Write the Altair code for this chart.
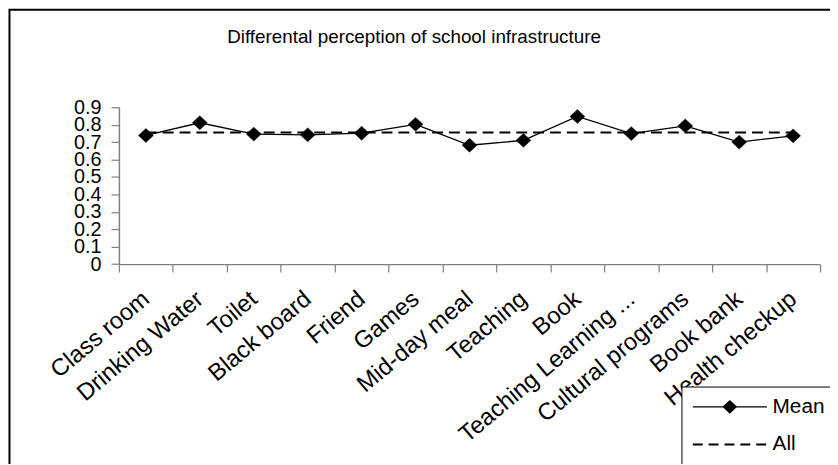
import altair as alt
import pandas as pd

categories = ["Class room", "Drinking Water", "Toilet", "Black board", "Friend", "Games",
              "Mid-day meal", "Teaching", "Book", "Teaching Learning ...",
              "Cultural programs", "Book bank", "Health checkup"]
mean_values = [0.738, 0.811, 0.746, 0.742, 0.751, 0.802, 0.682, 0.710, 0.847, 0.749, 0.793, 0.700, 0.736]
all_values = [0.755] * len(categories)
series_names = ["Mean", "All"]
y_ticks = [0, 0.1, 0.2, 0.3, 0.4, 0.5, 0.6, 0.7, 0.8, 0.9]
title_text = "Differental perception of school infrastructure"

SANS = "Liberation Sans, Arial, sans-serif"

rows = []
for c, m, a in zip(categories, mean_values, all_values):
    rows.append({"category": c, "series": "Mean", "value": m})
    rows.append({"category": c, "series": "All", "value": a})
df = pd.DataFrame(rows)

x_enc = alt.X("category:N", sort=categories,
              scale=alt.Scale(type="band", paddingInner=0, paddingOuter=0),
              axis=alt.Axis(title=None, tickBand="extent", labelAngle=-40, labelAlign="right",
                            labelBaseline="middle", labelFont=SANS, labelFontSize=24,
                            labelColor="black", labelPadding=24, labelLimit=400,
                            labelOverlap=False,
                            tickSize=8, tickColor="#808080", domainColor="#808080",
                            domainWidth=1.5, tickWidth=1.2, grid=False))
y_enc = alt.Y("value:Q", scale=alt.Scale(domain=[0, 0.9], nice=False, zero=True),
              axis=alt.Axis(title=None, values=y_ticks, format=".1~f", labelFont=SANS,
                            labelFontSize=20, labelColor="black", labelPadding=10,
                            labelOverlap=False,
                            tickSize=8, tickColor="#808080", domainColor="#808080",
                            domainWidth=1.5, tickWidth=1.2, grid=False))

base = alt.Chart(df)

frame = alt.Chart(pd.DataFrame({"f": [0]})).mark_rect(
    filled=False, stroke="black", strokeWidth=2
).encode(x=alt.value(-110.5), x2=alt.value(900), y=alt.value(-98.5), y2=alt.value(600))

all_line = base.transform_filter(alt.datum.series == "All").mark_line(
    color="black", strokeWidth=2, strokeDash=[11, 6]
).encode(x=x_enc, y=y_enc)

mean_line = base.transform_filter(alt.datum.series == "Mean").mark_line(
    color="black", strokeWidth=1.3
).encode(x=x_enc, y=y_enc)

mean_pts = base.transform_filter(alt.datum.series == "Mean").mark_point(
    shape="M-1,0L0,-0.93L1,0L0,0.93Z", filled=True, fill="black", stroke="black",
    strokeWidth=0.5, size=225, opacity=1
).encode(x=x_enc, y=y_enc)

# legend glyphs drawn as filled paths (unit = 9px): solid line + diamond / dashed line
mean_path = ("M-1,-0.075H7.3V0.075H-1Z"
             "M3.15,-0.78L3.98,0L3.15,0.78L2.32,0Z")
all_path = ("M-1,-0.11H0.111V0.11H-1Z"
            "M0.778,-0.11H1.889V0.11H0.778Z"
            "M2.556,-0.11H3.667V0.11H2.556Z"
            "M4.333,-0.11H5.444V0.11H4.333Z"
            "M6.111,-0.11H7.222V0.11H6.111Z")

legend_props = dict(title=None, orient="none", legendX=568, legendY=282,
                    padding=10, strokeColor="black", fillColor="white",
                    labelFont=SANS, labelFontSize=21, labelColor="black",
                    labelOffset=61, symbolSize=324, rowPadding=16,
                    symbolFillColor="black")

legend_layer = base.transform_filter("false").mark_point(
    filled=True, fill="black", color="black", size=324, opacity=1
).encode(
    shape=alt.Shape("series:N", scale=alt.Scale(domain=series_names, range=[mean_path, all_path]),
                    legend=alt.Legend(**legend_props)),
)

chart = alt.layer(frame, all_line, mean_line, mean_pts, legend_layer).properties(
    width=708, height=158.4,
    autosize=alt.AutoSizeParams(type="none"),
    padding={"left": 112, "top": 98, "right": 10, "bottom": 200},
    title=alt.Title(title_text, font=SANS, fontSize=19, fontWeight="normal", color="black",
                    anchor="middle", frame="group", dx=-56, offset=-53.5, baseline="alphabetic"),
    background="white",
).configure_view(stroke=None)

chart.save("out.html", embed_options={"renderer": "svg", "actions": False})
